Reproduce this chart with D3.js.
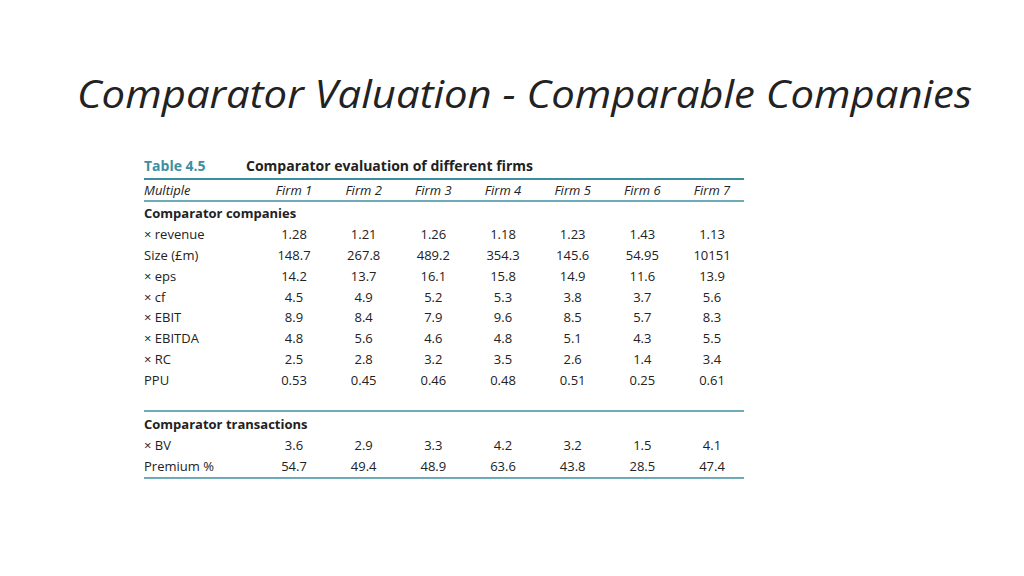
<!DOCTYPE html><html><head><meta charset="utf-8"><script src="https://cdn.jsdelivr.net/npm/d3@7"></script>
<style>body{margin:0;background:#fff}</style></head><body><svg id="c" width="1024" height="576"></svg>
<script>
const firms=["Firm 1","Firm 2","Firm 3","Firm 4","Firm 5","Firm 6","Firm 7"];
const companyRows=["× revenue","Size (£m)","× eps","× cf","× EBIT","× EBITDA","× RC","PPU"];
const companyValues=[
["1.28","1.21","1.26","1.18","1.23","1.43","1.13"],
["148.7","267.8","489.2","354.3","145.6","54.95","10151"],
["14.2","13.7","16.1","15.8","14.9","11.6","13.9"],
["4.5","4.9","5.2","5.3","3.8","3.7","5.6"],
["8.9","8.4","7.9","9.6","8.5","5.7","8.3"],
["4.8","5.6","4.6","4.8","5.1","4.3","5.5"],
["2.5","2.8","3.2","3.5","2.6","1.4","3.4"],
["0.53","0.45","0.46","0.48","0.51","0.25","0.61"]];
const transRows=["× BV","Premium %"];
const transValues=[["3.6","2.9","3.3","4.2","3.2","1.5","4.1"],["54.7","49.4","48.9","63.6","43.8","28.5","47.4"]];
const svg=d3.select("#c");
const teal="#3d8fa0", txt="#222", f="'Open Sans',sans-serif";
svg.append("text").attr("x",77).attr("y",108).attr("font-family","'Open Sans',sans-serif").attr("font-style","italic").attr("font-weight",400).attr("font-size",38).attr("fill","#222").attr("textLength",895).attr("lengthAdjust","spacingAndGlyphs").text("Comparator Valuation - Comparable Companies");
const x=d3.scalePoint().domain(firms).range([294,712]);
const L=144,R=744;
[179,201,411,478].forEach((y,i)=>svg.append("line").attr("x1",L).attr("x2",R).attr("y1",y).attr("y2",y).attr("stroke",teal).attr("stroke-width",i==0?2:1.5));
const t=(xx,y,s,o={})=>{const e=svg.append("text").attr("x",xx).attr("y",y).attr("font-family",f).attr("font-size",o.size||13).attr("fill",o.fill||txt).attr("text-anchor",o.anchor||"start").text(s);if(o.bold)e.attr("font-weight",700);if(o.it)e.attr("font-style","italic");return e;};
t(144,171,"Table 4.5",{fill:teal,bold:1,size:14});
t(246,171,"Comparator evaluation of different firms",{bold:1,size:14});
t(144,195,"Multiple",{it:1});
firms.forEach(d=>t(x(d),195,d,{it:1,anchor:"middle"}));
t(144,218,"Comparator companies",{bold:1});
const ys=d3.scalePoint().domain(companyRows).range([239,385]);
companyRows.forEach((r,i)=>{t(144,ys(r),r);companyValues[i].forEach((v,j)=>t(x(firms[j]),ys(r),v,{anchor:"middle"}));});
t(144,429,"Comparator transactions",{bold:1});
const yt=d3.scalePoint().domain(transRows).range([450,471]);
transRows.forEach((r,i)=>{t(144,yt(r),r);transValues[i].forEach((v,j)=>t(x(firms[j]),yt(r),v,{anchor:"middle"}));});
</script></body></html>
